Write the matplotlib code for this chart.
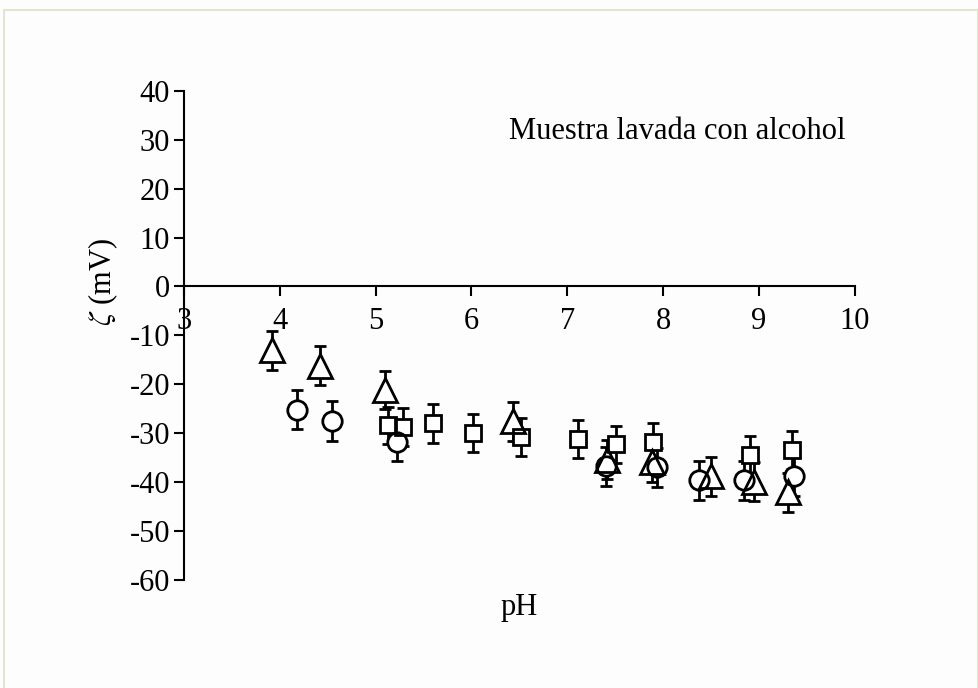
import numpy as np
import matplotlib
matplotlib.use("Agg")
import matplotlib.pyplot as plt
from matplotlib.patches import Rectangle

plt.rcParams['font.family'] = ['Liberation Serif', 'DejaVu Serif']
plt.rcParams['mathtext.fontset'] = 'stix'

# triángulos
ph_tri = [3.92, 4.42, 5.10, 6.43, 7.41, 7.88, 8.50, 8.95, 9.30]
z_tri = [-13.0, -16.2, -21.2, -27.6, -35.4, -35.9, -38.8, -39.9, -42.1]
err_tri = [4.0, 4.0, 3.9, 4.0, 4.0, 4.0, 4.0, 4.0, 4.0]

# círculos
ph_cir = [4.18, 4.54, 5.22, 7.40, 7.94, 8.38, 8.85, 9.37]
z_cir = [-25.2, -27.5, -31.7, -36.8, -37.0, -39.6, -39.6, -38.8]
err_cir = [4.0, 4.0, 4.0, 4.0, 4.0, 4.0, 4.0, 4.0]

# cuadrados
ph_sq = [5.13, 5.29, 5.60, 6.02, 6.52, 7.11, 7.51, 7.90, 8.91, 9.35]
z_sq = [-28.4, -28.8, -28.0, -29.9, -30.7, -31.2, -32.3, -31.8, -34.4, -33.4]
err_sq = [3.7, 3.9, 3.9, 3.9, 3.9, 3.9, 3.8, 3.9, 3.9, 3.9]

xticks = [3, 4, 5, 6, 7, 8, 9, 10]
yticks = [40, 30, 20, 10, 0, -10, -20, -30, -40, -50, -60]

fig = plt.figure(figsize=(9.79, 6.88), dpi=100)
fig.patch.set_facecolor('#fdfdfd')
fig.patches.append(Rectangle((0.004, -0.01), 0.995, 0.995, transform=fig.transFigure,
                             fill=False, edgecolor='#dfe7cf', linewidth=1.5))

ax = fig.add_axes([0.188, 0.157, 0.685, 0.711])
ax.set_facecolor('none')

series = [
    (ph_tri, z_tri, err_tri, '^', 17),
    (ph_cir, z_cir, err_cir, 'o', 14),
    (ph_sq, z_sq, err_sq, 's', 11.5),
]

# barras de error, luego relleno blanco y por último los contornos
for x, y, e, m, s in series:
    ax.errorbar(x, y, yerr=e, fmt='none', ecolor='black', elinewidth=2,
                capsize=4.5, capthick=2, zorder=2)
for x, y, e, m, s in series:
    ax.plot(x, y, linestyle='none', marker=m, markersize=s, markerfacecolor='white',
            markeredgecolor='none', zorder=3)
for x, y, e, m, s in series:
    ax.plot(x, y, linestyle='none', marker=m, markersize=s, markerfacecolor='none',
            markeredgecolor='black', markeredgewidth=2, zorder=4)

ax.set_xlim(3, 10)
ax.set_ylim(-60, 40)
ax.spines['left'].set_position(('data', 3))
ax.spines['bottom'].set_position(('data', 0))
ax.spines['top'].set_visible(False)
ax.spines['right'].set_visible(False)
for sp in ('left', 'bottom'):
    ax.spines[sp].set_linewidth(1.5)
ax.set_xticks(xticks)
ax.set_yticks(yticks)
ax.set_xticklabels([str(t) for t in xticks])
ax.set_yticklabels([str(t) for t in yticks])
ax.tick_params(direction='out', length=7, width=1.5, labelsize=22)
ax.tick_params(axis='x', pad=8)
ax.tick_params(axis='y', pad=3)

ax.text(8.15, 31.7, 'Muestra lavada con alcohol', ha='center', va='center', fontsize=22)
fig.text(0.53, 0.117, 'pH', ha='center', va='center', fontsize=22)
fig.text(0.105, 0.59, r'$\zeta$ (mV)', ha='center', va='center', rotation=90, fontsize=22)

fig.savefig('out.png', dpi=100, facecolor=fig.get_facecolor())
